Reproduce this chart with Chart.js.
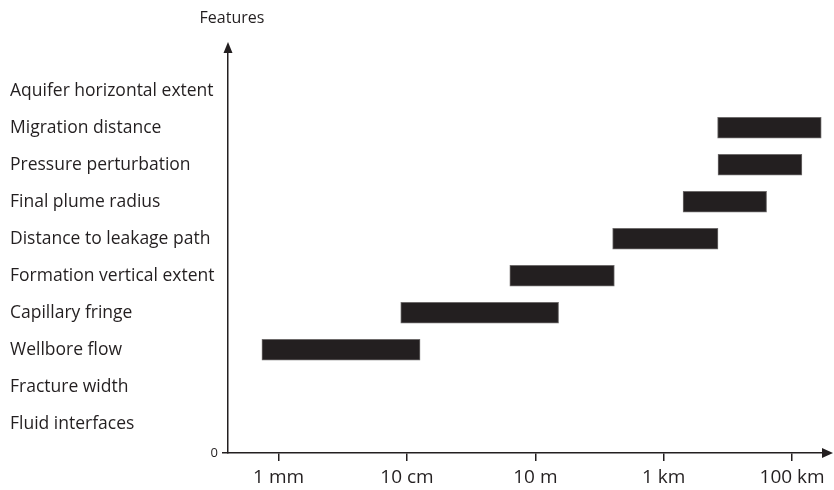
<!DOCTYPE html>
<html>
<head>
<meta charset="utf-8">
<script src="https://cdn.jsdelivr.net/npm/chart.js@4/dist/chart.umd.min.js"></script>
<style>
  html, body { margin: 0; padding: 0; background: #ffffff; }
  canvas { display: block; }
</style>
</head>
<body>
<canvas id="chart" width="834" height="490"></canvas>
<script>
// Length scales of features in a storage formation (metres), top row first.
const categories = [
  'Aquifer horizontal extent',
  'Migration distance',
  'Pressure perturbation',
  'Final plume radius',
  'Distance to leakage path',
  'Formation vertical extent',
  'Capillary fringe',
  'Wellbore flow',
  'Fracture width',
  'Fluid interfaces'
];
const rangeStart = [null, 6900, 7000, 2000, 160, 4, 0.08, 0.00055, null, null];
const rangeEnd   = [null, 284000, 142000, 40000, 7000, 170, 23, 0.16, null, null];

// Length axis ticks (metres) and their labels.
const tickValues = [0.001, 0.1, 10, 1000, 100000];
const tickLabels = ['1 mm', '10 cm', '10 m', '1 km', '100 km'];

const yTitle = 'Features';
const originLabel = '0';

const ink = '#231f20';
const barFill = '#231f20';
const barEdge = '#6e6b6b';

// Rows sit at 1..n from the bottom; the origin is a little below the first row.
const yMin = 0.21;
const yMax = 11.21;
const xMin = 1.63e-4;
const xMax = 3.37e5;

const rows = [];
categories.forEach((name, i) => {
  if (rangeStart[i] == null) return;
  rows.push({ y: categories.length - i, x: [rangeStart[i], rangeEnd[i]] });
});

Chart.defaults.font.family = '"Open Sans", sans-serif';
Chart.defaults.color = ink;

const axisDecor = {
  id: 'axisDecor',
  afterDraw(chart) {
    const { ctx, chartArea: a } = chart;
    ctx.save();
    ctx.fillStyle = ink;
    // arrowhead on the vertical axis
    ctx.beginPath();
    ctx.moveTo(a.left, a.top - 4);
    ctx.lineTo(a.left - 4.5, a.top + 7);
    ctx.lineTo(a.left + 4.5, a.top + 7);
    ctx.closePath();
    ctx.fill();
    // arrowhead on the horizontal axis
    ctx.beginPath();
    ctx.moveTo(a.right + 7, a.bottom);
    ctx.lineTo(a.right - 4, a.bottom - 5);
    ctx.lineTo(a.right - 4, a.bottom + 5);
    ctx.closePath();
    ctx.fill();
    // origin label beside the small tick at the foot of the vertical axis
    ctx.font = '13px "Open Sans", sans-serif';
    ctx.textAlign = 'right';
    ctx.textBaseline = 'middle';
    ctx.fillText(originLabel, a.left - 10, chart.scales.yz.getPixelForValue(yMin));
    // vertical axis title above the arrow
    ctx.font = '16px "Open Sans", sans-serif';
    ctx.textAlign = 'center';
    ctx.fillText(yTitle, a.left + 4, 18);
    ctx.restore();
  }
};

new Chart(document.getElementById('chart'), {
  type: 'bar',
  data: {
    datasets: [{
      data: rows,
      backgroundColor: barFill,
      borderColor: barEdge,
      borderWidth: 1,
      borderSkipped: false,
      barThickness: 21,
      xAxisID: 'x',
      yAxisID: 'y'
    }]
  },
  options: {
    indexAxis: 'y',
    responsive: false,
    animation: false,
    layout: { padding: { left: 10, top: 46, right: 8, bottom: 0 } },
    plugins: { legend: { display: false }, tooltip: { enabled: false } },
    scales: {
      x: {
        type: 'logarithmic',
        min: xMin,
        max: xMax,
        bounds: 'data',
        grid: { drawOnChartArea: false, tickLength: 8, color: ink, lineWidth: 1.5 },
        border: { display: true, color: ink, width: 1.5 },
        afterBuildTicks: s => { s.ticks = tickValues.map(v => ({ value: v })); },
        afterFit: s => { s.height = 37; },
        ticks: {
          padding: 5, color: ink, font: { size: 19 },
          autoSkip: false, maxRotation: 0,
          callback: (v, i) => tickLabels[i]
        }
      },
      y: {
        type: 'linear',
        position: 'left',
        weight: 1,
        min: yMin,
        max: yMax,
        offset: false,
        grid: { display: false, offset: false },
        border: { display: false },
        afterBuildTicks: s => { s.ticks = categories.map((c, i) => ({ value: categories.length - i })); },
        afterFit: s => { s.width = 210; },
        ticks: {
          crossAlign: 'far', autoSkip: false, padding: 0,
          color: ink, font: { size: 17.5 },
          callback: v => categories[categories.length - v]
        }
      },
      yz: {
        type: 'linear',
        position: 'left',
        weight: 0,
        min: yMin,
        max: yMax,
        offset: false,
        grid: { drawOnChartArea: false, offset: false, tickLength: 6, color: ink, lineWidth: 1.5 },
        border: { display: true, color: ink, width: 1.5 },
        afterBuildTicks: s => { s.ticks = [{ value: s.min }]; },
        afterFit: s => { s.width = 8; },
        ticks: { display: false }
      }
    }
  },
  plugins: [axisDecor]
});
</script>
</body>
</html>
